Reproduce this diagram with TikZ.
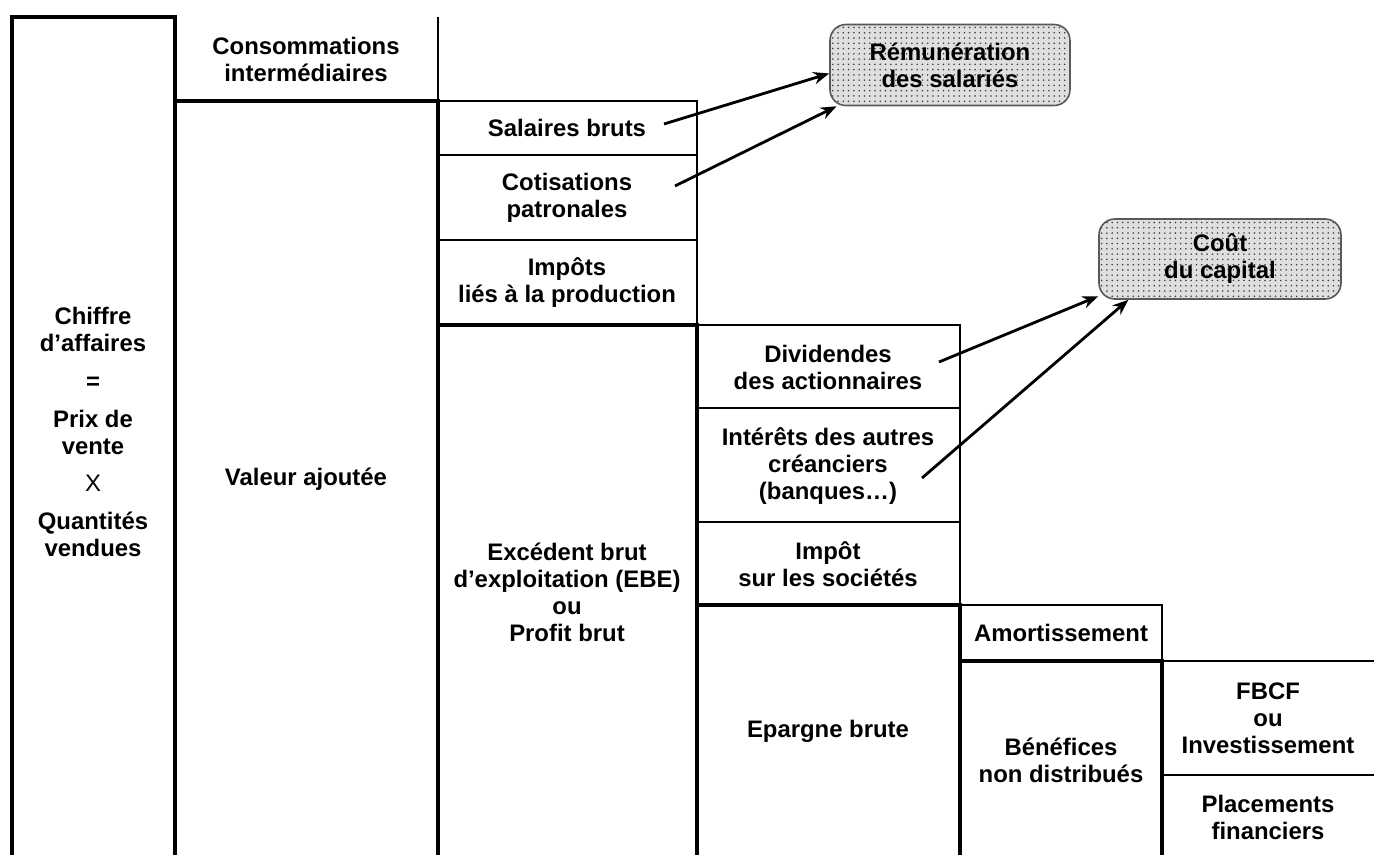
\documentclass[tikz,border=0pt]{standalone}
\usepackage{fontspec}
\setmainfont{Liberation Sans}
\usetikzlibrary{positioning, arrows.meta, patterns, calc}

\begin{document}
\begin{tikzpicture}
[x=0.02cm, y=-0.02cm,
 lbl/.style={font=\bfseries\fontsize{13.6}{15.4}\selectfont, align=center, inner sep=0pt},
 thk/.style={line width=2.3pt},
 thn/.style={line width=0.8pt},
 pay/.style={rectangle, rounded corners=9pt, draw=black!65, line width=0.9pt,
   preaction={fill=gray!25}, pattern=dots, pattern color=black!75,
   minimum height=1.62cm, lbl},
 ->/.style={line width=1.6pt, arrows={-Stealth[length=9pt, width=7pt]}}]

\useasboundingbox (0,0) rectangle (1374,855);

% thin cell borders
\draw[thn] (438,17) -- (438,101);
\draw[thn] (438,101) -- (697,101) -- (697,325);
\draw[thn] (438,155) -- (697,155);
\draw[thn] (438,240) -- (697,240);
\draw[thn] (697,325) -- (960,325) -- (960,605);
\draw[thn] (697,408) -- (960,408);
\draw[thn] (697,522) -- (960,522);
\draw[thn] (960,605) -- (1162,605) -- (1162,661);
\draw[thn] (1162,661) -- (1374,661);
\draw[thn] (1162,775) -- (1374,775);

% thick columns
\draw[thk] (12,855) -- (12,17) -- (175,17) -- (175,855);
\draw[thk] (175,101) -- (438,101) -- (438,855);
\draw[thk] (438,325) -- (697,325) -- (697,855);
\draw[thk] (697,605) -- (960,605) -- (960,855);
\draw[thk] (960,661) -- (1162,661) -- (1162,855);

% labels
\node[lbl] (ca) at (93,432) {Chiffre\\d’affaires\\[6pt]=\\[6pt]Prix de\\vente\\[6pt]{\mdseries X}\\[6pt]Quantités\\vendues};
\node[lbl] (ci) at (306,59) {Consommations\\intermédiaires};
\node[lbl] (va) at (306,479) {Valeur ajoutée};
\node[lbl] (sal) at (567,128) {Salaires bruts};
\node[lbl] (cot) at (567,198) {Cotisations\\patronales};
\node[lbl] (ipr) at (567,283) {Impôts\\liés à la production};
\node[lbl] (ebe) at (567,592) {Excédent brut\\d’exploitation (EBE)\\ou\\Profit brut};
\node[lbl] (div) at (828,367) {Dividendes\\des actionnaires};
\node[lbl] (int) at (828,466) {Intérêts des autres\\créanciers\\(banques…)};
\node[lbl] (is) at (828,564) {Impôt\\sur les sociétés};
\node[lbl] (epa) at (828,731) {Epargne brute};
\node[lbl] (amo) at (1061,633) {Amortissement};
\node[lbl] (bnd) at (1061,760) {Bénéfices\\non distribués};
\node[lbl] (fbcf) at (1268,718) {FBCF\\ou\\Investissement};
\node[lbl] (plc) at (1268,817) {Placements\\financiers};

% payments
\node[pay, minimum width=4.8cm] (rem) at (950,65) {Rémunération\\des salariés};
\node[pay, minimum width=4.84cm, minimum height=1.6cm] (cout) at (1220,259) {Coût\\du capital};

\coordinate (salA) at (664,124);
\coordinate (cotA) at (675,186);
\coordinate (divA) at (939,362);
\coordinate (intA) at (922,478);

\draw[->] (salA) -- (rem.184);
\draw[->] (cotA) -- (rem.200);
\draw[->] (divA) -- (cout.197);
\draw[->] (intA) -- (cout.204);

\end{tikzpicture}
\end{document}
